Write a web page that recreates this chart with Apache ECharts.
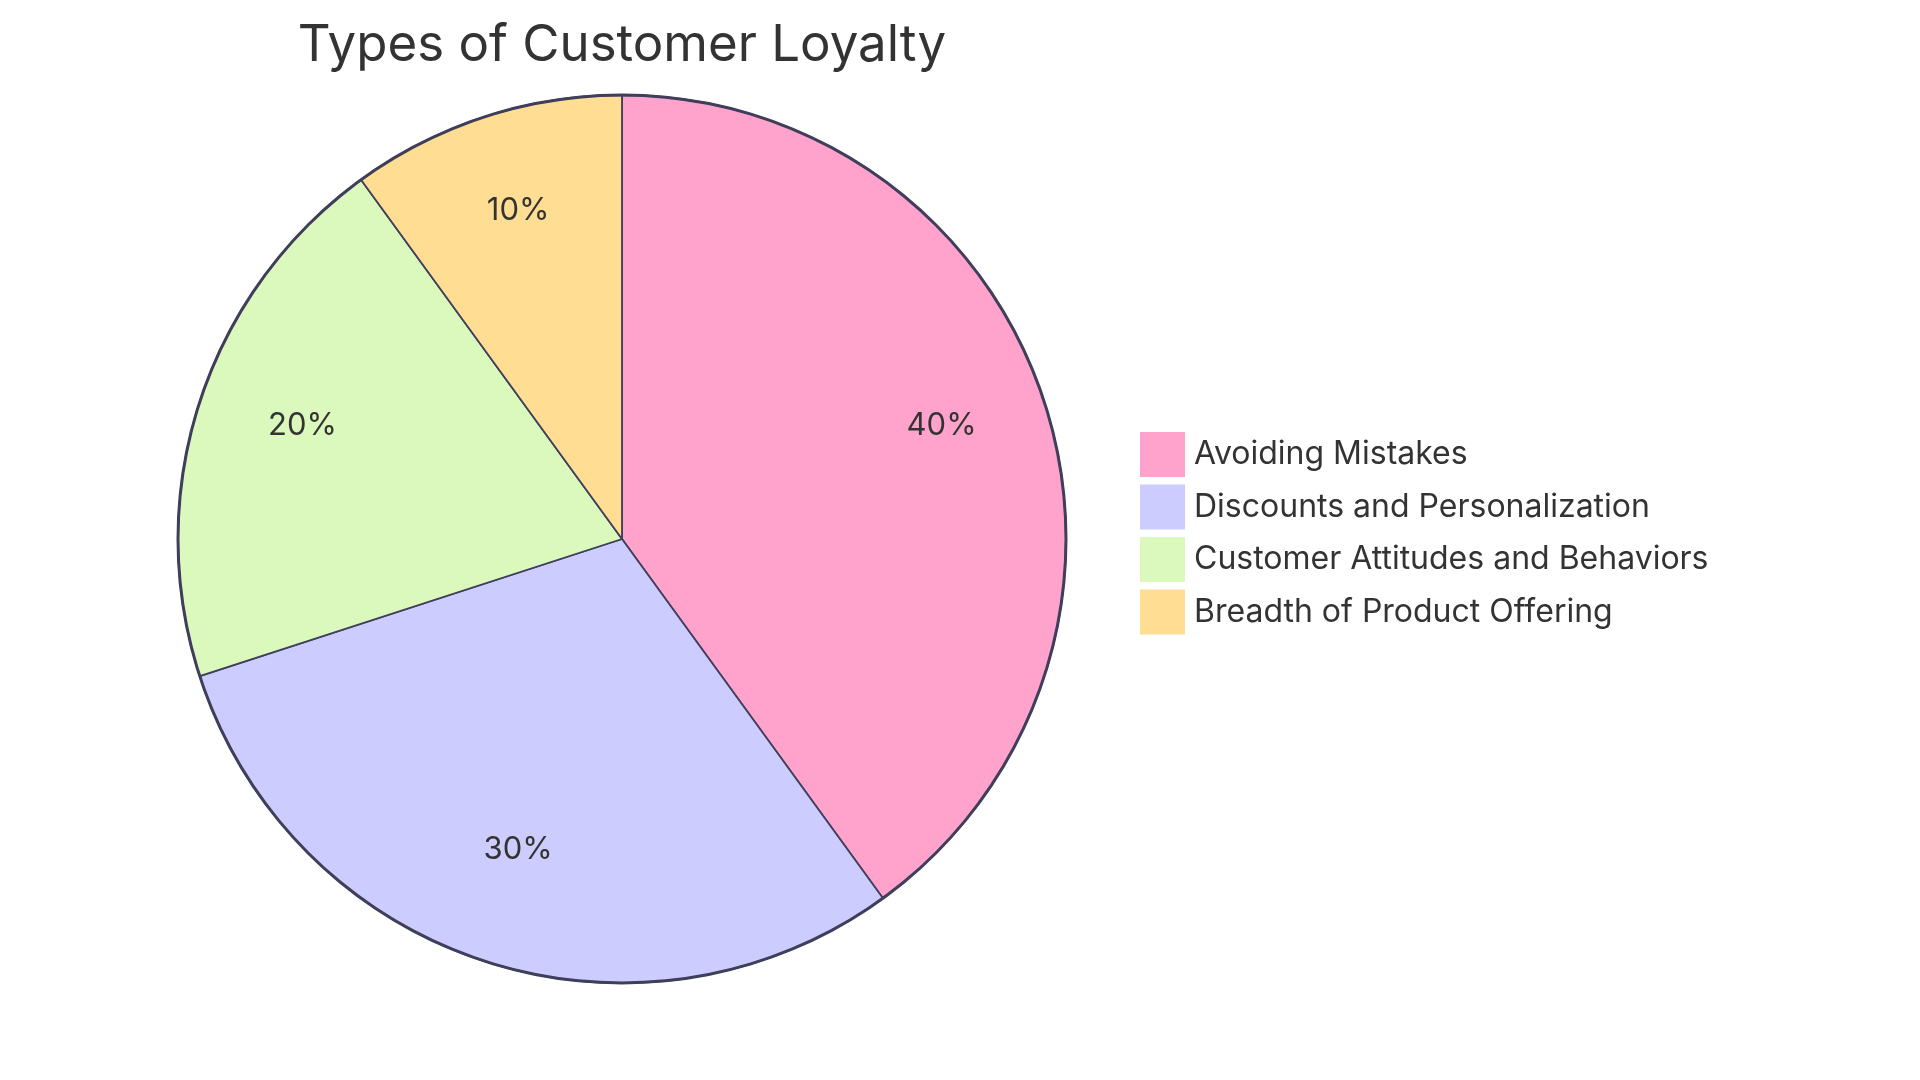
<!DOCTYPE html>
<html>
<head>
<meta charset="utf-8">
<script src="https://cdn.jsdelivr.net/npm/echarts@6/dist/echarts.min.js"></script>
<style>html,body{margin:0;padding:0;background:#fff;}#c{width:1920px;height:1080px;}</style>
</head>
<body>
<div id="c"></div>
<script>
const categories = ['Avoiding Mistakes', 'Discounts and Personalization', 'Customer Attitudes and Behaviors', 'Breadth of Product Offering'];
const values = [40, 30, 20, 10];
const colors = ['#FFA3CC', '#CCCCFF', '#DCF9BD', '#FFDE93'];
const titleText = 'Types of Customer Loyalty';

const FONT = 'Inter, "Open Sans", sans-serif';
const STROKE = '#3f3f5c';
const R = 444;
const C = [622, 539];
const data = categories.map((n, i) => ({ name: n, value: values[i], itemStyle: { color: colors[i] } }));
const total = values.reduce((a, b) => a + b, 0);

const chart = echarts.init(document.getElementById('c'));
chart.setOption({
  animation: false,
  title: {
    text: titleText, left: 622, top: 20, textAlign: 'center', padding: 0,
    textStyle: { fontFamily: FONT, fontSize: 51, fontWeight: 'normal', color: '#333' }
  },
  legend: {
    data: categories, orient: 'vertical', left: 1140, top: 432, padding: 0,
    icon: 'rect', itemWidth: 45, itemHeight: 45, itemGap: 7.5,
    itemStyle: { borderWidth: 0 },
    textStyle: { fontFamily: FONT, fontSize: 32, color: '#333', padding: [5, 0, 0, 4] }
  },
  series: [
    {
      type: 'pie', center: C, radius: [0, R], startAngle: 90, clockwise: true,
      data: data, label: { show: false }, labelLine: { show: false },
      itemStyle: { borderColor: STROKE, borderWidth: 1.8 },
      emphasis: { disabled: true }, silent: true
    },
    {
      type: 'pie', center: C, radius: [R * 0.5, R], startAngle: 90, clockwise: true,
      data: categories.map((n, i) => ({ name: n, value: values[i], itemStyle: { color: 'rgba(0,0,0,0)' } })),
      itemStyle: { borderWidth: 0 },
      label: {
        show: true, position: 'inside',
        formatter: p => '{a|' + Math.round(p.value / total * 100) + '%}\n{b|}',
        rich: {
          a: { fontFamily: FONT, fontSize: 31, color: '#333', lineHeight: 31 },
          b: { fontSize: 10, lineHeight: 18 }
        }
      },
      labelLine: { show: false }, emphasis: { disabled: true }, silent: true
    },
    {
      type: 'pie', center: C, radius: [R - 1.5, R + 1.5], silent: true,
      data: [{ name: 'outline', value: 1, itemStyle: { color: STROKE } }],
      label: { show: false }, labelLine: { show: false }, emphasis: { disabled: true }
    }
  ]
});
</script>
</body>
</html>
